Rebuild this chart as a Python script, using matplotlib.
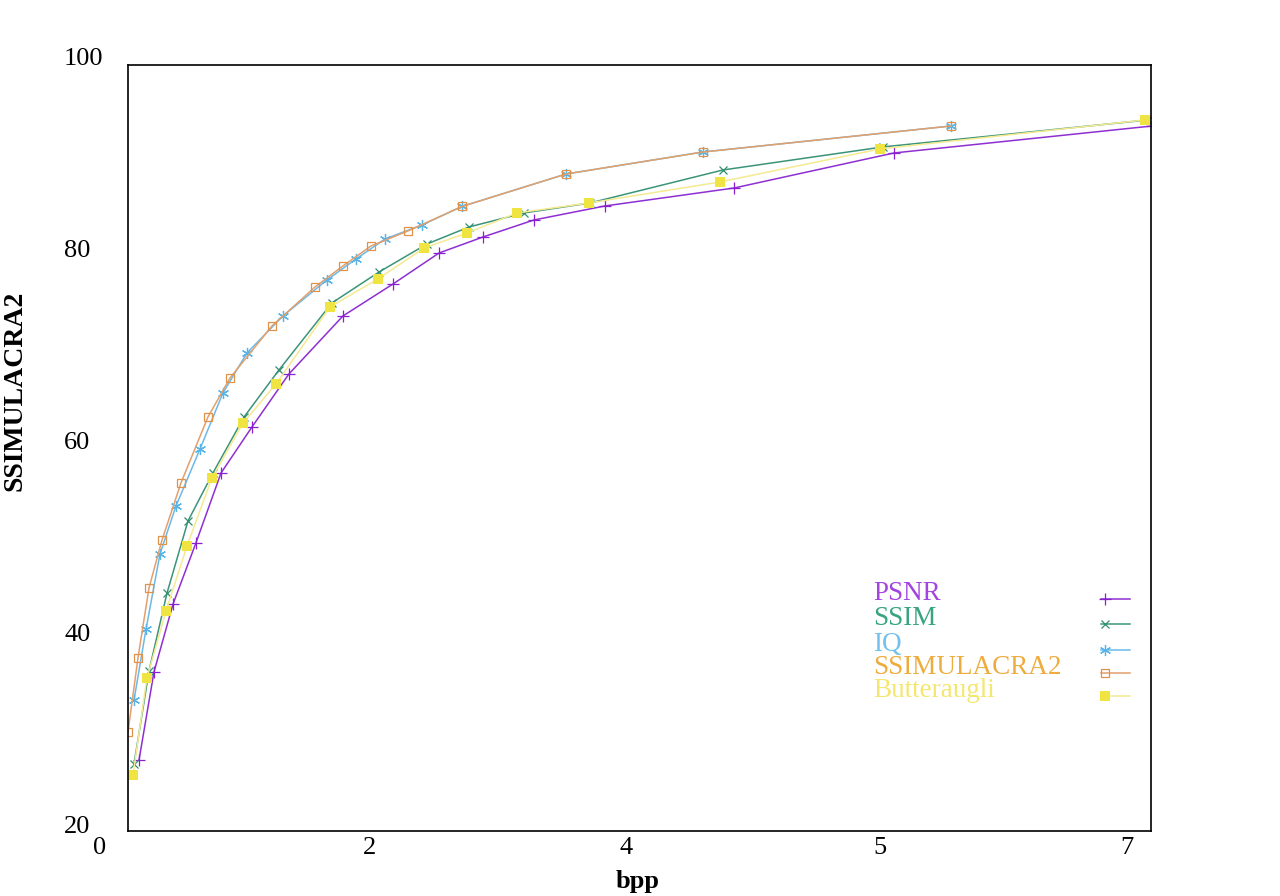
import matplotlib
matplotlib.use("Agg")
from matplotlib import pyplot as plt
from matplotlib.lines import Line2D

plt.rcParams["font.family"] = ["Liberation Serif", "DejaVu Serif"]

# bits per pixel
psnr_x = [0.266, 0.368, 0.498, 0.654, 0.825, 1.036, 1.288, 1.656, 1.997, 2.311, 2.611, 2.958, 3.442, 4.322, 5.412, 7.171]
psnr_y = [26.77, 35.94, 43.02, 49.38, 56.67, 61.46, 66.98, 73.02, 76.35, 79.58, 81.25, 83.02, 84.48, 86.35, 90.00, 92.81]

ssim_x = [0.232, 0.334, 0.457, 0.600, 0.770, 0.982, 1.220, 1.581, 1.902, 2.229, 2.515, 2.890, 3.340, 4.247, 5.337, 7.144]
ssim_y = [26.35, 36.04, 44.17, 51.67, 56.67, 62.50, 67.40, 74.38, 77.60, 80.52, 82.29, 83.75, 84.79, 88.23, 90.63, 93.44]

iq_x = [0.232, 0.314, 0.409, 0.518, 0.682, 0.838, 1.002, 1.247, 1.547, 1.745, 1.943, 2.195, 2.468, 3.177, 4.110, 5.801]
iq_y = [33.02, 40.42, 48.23, 53.23, 59.17, 65.00, 69.17, 73.02, 76.77, 78.96, 81.04, 82.50, 84.43, 87.81, 90.10, 92.81]

ssimu_x = [0.191, 0.259, 0.334, 0.423, 0.552, 0.736, 0.886, 1.172, 1.466, 1.656, 1.847, 2.100, 2.468, 3.177, 4.110, 5.801]
ssimu_y = [29.69, 37.40, 44.69, 49.69, 55.63, 62.50, 66.56, 71.98, 76.04, 78.23, 80.31, 81.88, 84.43, 87.81, 90.10, 92.81]

butter_x = [0.225, 0.320, 0.450, 0.593, 0.763, 0.975, 1.200, 1.568, 1.895, 2.209, 2.502, 2.843, 3.333, 4.226, 5.317, 7.123]
butter_y = [25.21, 35.31, 42.29, 49.06, 56.15, 61.88, 65.94, 73.96, 76.88, 80.10, 81.67, 83.75, 84.79, 86.98, 90.42, 93.44]

xtick_pos = [0.0, 1.84, 3.585, 5.317, 7.0]
xtick_labels = ["0", "2", "4", "5", "7"]
ytick_pos = [20, 40, 60, 80, 100]

# name, x, y, marker, line colour, marker colour, label colour, marker size
series = [
    ("PSNR", psnr_x, psnr_y, "+", "#8e2fd2", "#8a1fd0", "#a444e0", 8),
    ("SSIM", ssim_x, ssim_y, "x", "#3b9479", "#2f8f6f", "#38a480", 6),
    ("IQ", iq_x, iq_y, (6, 2, 0), "#6cb9e8", "#56B4E9", "#72c0f0", 8),
    ("SSIMULACRA2", ssimu_x, ssimu_y, "s", "#e2a06c", "#e0914a", "#eeac3e", 6.3),
    ("Butteraugli", butter_x, butter_y, "s", "#f4ea92", "#F0E442", "#f4e770", 7),
]


def style(name, mk, lcol, mcol, ms):
    filled = name == "Butteraugli"
    return dict(color=lcol, lw=1.1, marker=mk, markersize=ms,
                markerfacecolor=mcol if filled else "none",
                markeredgecolor=mcol, markeredgewidth=0 if filled else 0.9)


fig = plt.figure(figsize=(12.8, 8.96), dpi=100)
ax = fig.add_axes([0.1, 0.0725, 0.7992, 0.855])

for name, xs, ys, mk, lcol, mcol, tcol, ms in series:
    ax.plot(xs, ys, **style(name, mk, lcol, mcol, ms))

ax.set_xlim(0.191, 7.164)
ax.set_ylim(19.375, 99.167)
ax.set_xticks([])
ax.set_yticks([])
for s in ax.spines.values():
    s.set_linewidth(1.2)

# tick labels (gnuplot puts them slightly off the frame)
for p, lab in zip(xtick_pos, xtick_labels):
    ax.text(p, -0.008, lab, transform=ax.get_xaxis_transform(), ha="center",
            va="top", fontsize=19, clip_on=False)
for p in ytick_pos:
    ax.text(-0.0625, p - 0.25, str(p), transform=ax.get_yaxis_transform(), ha="left",
            va="center", fontsize=19, clip_on=False)

fig.text(0.4985, 0.016, "bpp", ha="center", va="center", fontsize=19, fontweight="bold")
fig.text(0.012, 0.5636, "SSIMULACRA2", ha="center", va="center", rotation=90,
         fontsize=20, fontweight="bold")

# legend
row_y = [593, 618, 644, 667, 690]
for (name, xs, ys, mk, lcol, mcol, tcol, ms), yy in zip(series, row_y):
    fig.text(873 / 1280, 1 - yy / 896, name, color=tcol, fontsize=19.5, ha="left", va="center")
    sy = 1 - (yy + 6) / 896
    st = style(name, mk, lcol, mcol, ms)
    fig.add_artist(Line2D([1101 / 1280, 1130 / 1280], [sy, sy], color=lcol, lw=1.1))
    st.update(linestyle="none")
    fig.add_artist(Line2D([1105 / 1280], [sy], **st))

fig.savefig("out.png", dpi=100)
